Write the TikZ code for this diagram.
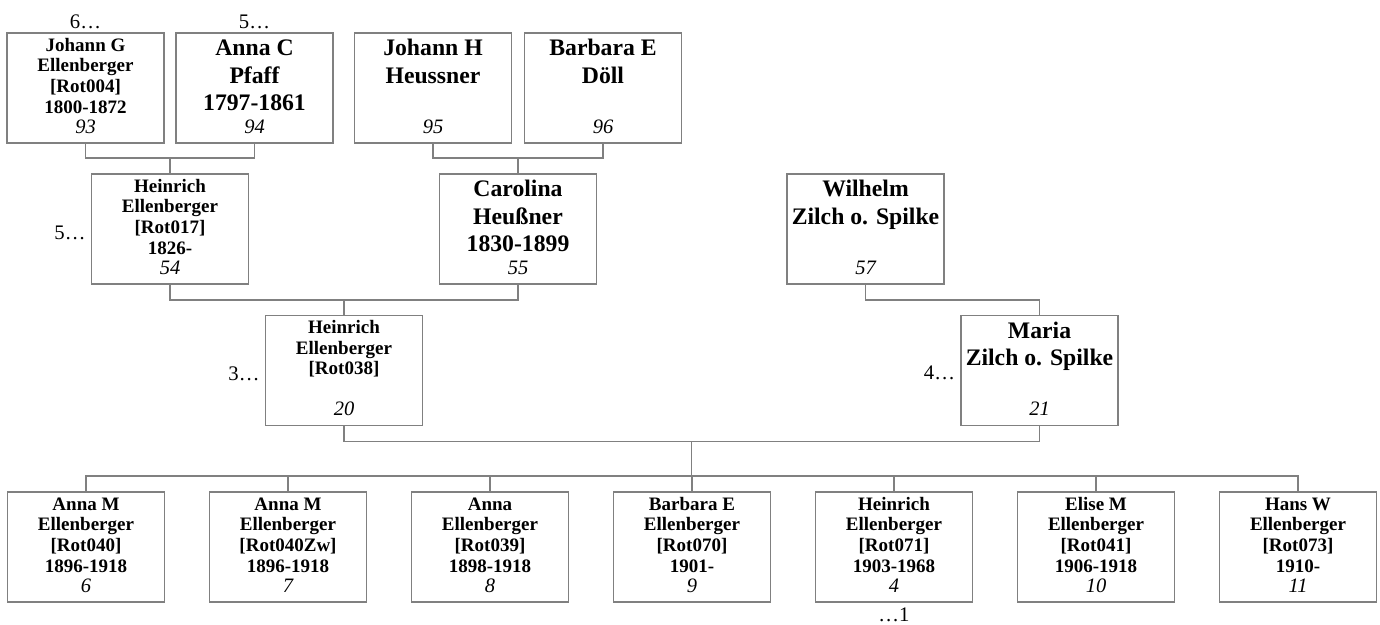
\documentclass[tikz,border=0pt]{standalone}
\usepackage{fontspec}
\setmainfont{Liberation Serif}
\usetikzlibrary{calc}
\definecolor{boxgray}{RGB}{128,128,128}
\newcommand{\smallfnt}{\fontsize{19}{20.7}\selectfont\bfseries}
\newcommand{\largefnt}{\fontsize{23.7}{27.6}\selectfont\bfseries}
\tikzset{
  box/.style={draw=boxgray, line width=1.3pt, minimum width=157pt, minimum height=110pt, inner sep=0pt, outer sep=0pt},
  conn/.style={draw=boxgray, line width=1.3pt},
  smalltxt/.style={anchor=north, align=center, inner sep=0pt, outer sep=0pt, font=\smallfnt},
  largetxt/.style={anchor=north, align=center, inner sep=0pt, outer sep=0pt, font=\largefnt},
  numtxt/.style={anchor=base, inner sep=0pt, outer sep=0pt, font=\fontsize{20.5}{24}\selectfont\itshape},
  gentxt/.style={inner sep=0pt, outer sep=0pt, font=\fontsize{20.7}{24}\selectfont},
}
\begin{document}
\begin{tikzpicture}[x=1pt,y=-1pt]
\useasboundingbox (0,0) rectangle (1380,624);
% boxes
\node[box] (n93) at (85.5,88) {};
\node[box] (n94) at (254.5,88) {};
\node[box] (n95) at (433,88) {};
\node[box] (n96) at (603,88) {};
\node[box] (n54) at (170,229) {};
\node[box] (n55) at (518,229) {};
\node[box] (n57) at (865.5,229) {};
\node[box] (n20) at (344,370.5) {};
\node[box] (n21) at (1039.5,370.5) {};
\node[box] (n6) at (86,547) {};
\node[box] (n7) at (288,547) {};
\node[box] (n8) at (490,547) {};
\node[box] (n9) at (692,547) {};
\node[box] (n4) at (894,547) {};
\node[box] (n10) at (1096,547) {};
\node[box] (n11) at (1298,547) {};
% names
\node[smalltxt] (t93) at (n93.north) {\rule{0pt}{18pt}Johann G\\Ellenberger\\{}[Rot004]\\1800-1872};
\node[largetxt] (t94) at (n94.north) {\rule{0pt}{22.5pt}Anna C\\Pfaff\\1797-1861};
\node[largetxt] (t95) at (n95.north) {\rule{0pt}{22.5pt}Johann H\\Heussner};
\node[largetxt] (t96) at (n96.north) {\rule{0pt}{22.5pt}Barbara E\\Döll};
\node[smalltxt] (t54) at (n54.north) {\rule{0pt}{18pt}Heinrich\\Ellenberger\\{}[Rot017]\\1826-};
\node[largetxt] (t55) at (n55.north) {\rule{0pt}{22.5pt}Carolina\\Heußner\\1830-1899};
\node[largetxt] (t57) at (n57.north) {\rule{0pt}{22.5pt}Wilhelm\\Zilch o. Spilke};
\node[smalltxt] (t20) at (n20.north) {\rule{0pt}{18pt}Heinrich\\Ellenberger\\{}[Rot038]};
\node[largetxt] (t21) at (n21.north) {\rule{0pt}{22.5pt}Maria\\Zilch o. Spilke};
\node[smalltxt] (t6) at (n6.north) {\rule{0pt}{18pt}Anna M\\Ellenberger\\{}[Rot040]\\1896-1918};
\node[smalltxt] (t7) at (n7.north) {\rule{0pt}{18pt}Anna M\\Ellenberger\\{}[Rot040Zw]\\1896-1918};
\node[smalltxt] (t8) at (n8.north) {\rule{0pt}{18pt}Anna\\Ellenberger\\{}[Rot039]\\1898-1918};
\node[smalltxt] (t9) at (n9.north) {\rule{0pt}{18pt}Barbara E\\Ellenberger\\{}[Rot070]\\1901-};
\node[smalltxt] (t4) at (n4.north) {\rule{0pt}{18pt}Heinrich\\Ellenberger\\{}[Rot071]\\1903-1968};
\node[smalltxt] (t10) at (n10.north) {\rule{0pt}{18pt}Elise M\\Ellenberger\\{}[Rot041]\\1906-1918};
\node[smalltxt] (t11) at (n11.north) {\rule{0pt}{18pt}Hans W\\Ellenberger\\{}[Rot073]\\1910-};
% numbers
\foreach \n in {93,94,95,96,54,55,57,20,21,6,7,8,9,4,10,11}
  \node[numtxt] (k\n) at ($(n\n.north)+(0,100)$) {\n};
% generation labels
\node[gentxt, anchor=base] (g93) at ($(n93.north)+(0,-5)$) {6…};
\node[gentxt, anchor=base] (g94) at ($(n94.north)+(0,-5)$) {5…};
\node[gentxt, anchor=base east] (g54) at ($(n54.north west)+(-6,65)$) {5…};
\node[gentxt, anchor=base east] (g20) at ($(n20.north west)+(-6,65)$) {3…};
\node[gentxt, anchor=base east] (g21) at ($(n21.north west)+(-6,64)$) {4…};
\node[gentxt, anchor=base] (g4) at ($(n4.south)+(0,19)$) {…1};
% connectors
\draw[conn] (n93.south) -- ++(0,15) -| (n94.south);
\draw[conn] (n54.north) -- ++(0,-16);
\draw[conn] (n95.south) -- ++(0,15) -| (n96.south);
\draw[conn] (n55.north) -- ++(0,-16);
\draw[conn] (n54.south) -- ++(0,16) -| (n55.south);
\draw[conn] (n20.north) -- ++(0,-16);
\draw[conn] (n57.south) -- ++(0,16) -| (n21.north);
\draw[conn] (n20.south) -- ++(0,16) -| (n21.south);
\coordinate (fam) at ($(n20.south)!0.5!(n21.south)+(0,16)$);
\coordinate (sib) at ($(fam)+(0,35)$);
\draw[conn] (fam) -- (sib);
\draw[conn] (n6.north) -- ++(0,-16) -| (n11.north);
\foreach \c in {7,8,9,4,10}
  \draw[conn] (n\c.north) -- ++(0,-16);
\end{tikzpicture}
\end{document}
